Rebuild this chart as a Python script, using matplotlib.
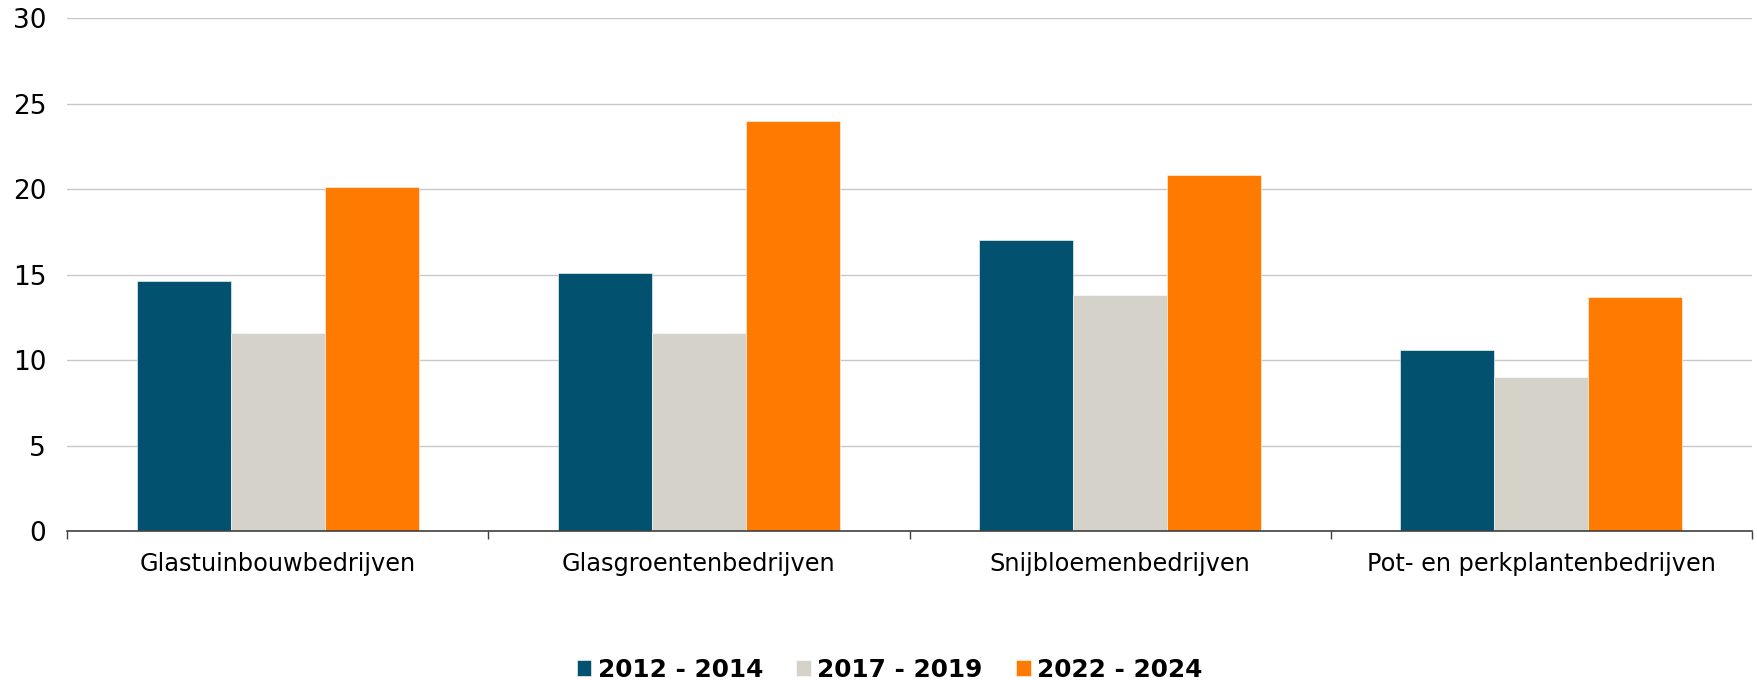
import matplotlib
matplotlib.use("Agg")
import matplotlib.pyplot as plt
import numpy as np

categories = ["Glastuinbouwbedrijven", "Glasgroentenbedrijven",
              "Snijbloemenbedrijven", "Pot- en perkplantenbedrijven"]
series_names = ["2012 - 2014", "2017 - 2019", "2022 - 2024"]
values_2012 = [14.6, 15.1, 17.0, 10.6]
values_2017 = [11.6, 11.6, 13.8, 9.0]
values_2022 = [20.1, 24.0, 20.8, 13.7]
colors = ["#02526F", "#D5D2CA", "#FF7A00"]

plt.rcParams['font.family'] = ['DejaVu Sans']

fig = plt.figure(figsize=(17.58, 6.8), dpi=100)
ax = fig.add_axes([0.0381, 0.219, 0.9585, 0.7545])

x = np.arange(len(categories))
width = 0.223
for i, (vals, name) in enumerate(zip([values_2012, values_2017, values_2022], series_names)):
    ax.bar(x + (i - 1) * width, vals, width, color=colors[i], label=name,
           edgecolor="white", linewidth=0.4, zorder=3)

ax.set_xlim(-0.5, len(categories) - 0.5)
ax.set_ylim(0, 30)
ax.set_yticks(range(0, 31, 5))
ax.grid(axis="y", color="#C8C8C8", linewidth=1.0, zorder=0)
ax.tick_params(axis="y", length=0, pad=15, labelsize=19)

# boundary ticks (unlabelled) + category labels centred between them
ax.set_xticks(np.arange(-0.5, len(categories)), labels=[])
ax.set_xticks(x, labels=categories, minor=True)
ax.tick_params(axis="x", which="major", length=6, width=1.0, color="#404040", direction="out")
ax.tick_params(axis="x", which="minor", length=0, pad=15, labelsize=17.3)

for s in ["top", "right", "left"]:
    ax.spines[s].set_visible(False)
ax.spines["bottom"].set_color("#404040")
ax.spines["bottom"].set_linewidth(1.2)
ax.spines["bottom"].set_zorder(4)

fig.legend(loc="lower center", bbox_to_anchor=(0.506, -0.035), ncol=3, frameon=False,
           prop={"weight": "bold", "size": 17.8}, handlelength=0.6, handleheight=0.6,
           handletextpad=0.25, columnspacing=1.35)

fig.savefig("out.png", dpi=100)
